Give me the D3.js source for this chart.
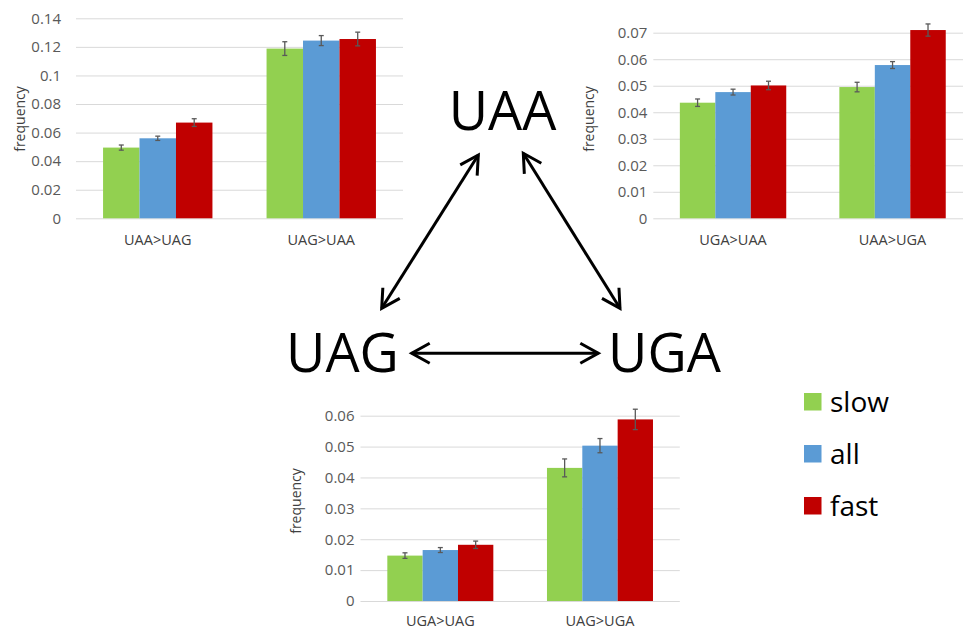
<!DOCTYPE html>
<html>
<head>
<meta charset="utf-8">
<script src="https://cdn.jsdelivr.net/npm/d3@7"></script>
<style>
  html, body { margin: 0; padding: 0; background: #fff; }
  svg { display: block; }
</style>
</head>
<body>
<svg id="chart" width="966" height="630"></svg>
<script>
// Series shared by all three panels
const seriesNames = ["slow", "all", "fast"];
const seriesColors = ["#92D050", "#5B9BD5", "#C00000"];

// Panel: UAA <-> UAG
const catsUAG = ["UAA>UAG", "UAG>UAA"];
const slowUAG = [0.0495, 0.1188];
const allUAG  = [0.0560, 0.1244];
const fastUAG = [0.0670, 0.1255];
const slowErrUAG = [0.0018, 0.0048];
const allErrUAG  = [0.0015, 0.0035];
const fastErrUAG = [0.0027, 0.0048];
const ticksUAG = [0, 0.02, 0.04, 0.06, 0.08, 0.1, 0.12, 0.14];

// Panel: UAA <-> UGA
const catsUGA = ["UGA>UAA", "UAA>UGA"];
const slowUGA = [0.0436, 0.0495];
const allUGA  = [0.0476, 0.0578];
const fastUGA = [0.0501, 0.0710];
const slowErrUGA = [0.0014, 0.0018];
const allErrUGA  = [0.0011, 0.0013];
const fastErrUGA = [0.0016, 0.0023];
const ticksUGA = [0, 0.01, 0.02, 0.03, 0.04, 0.05, 0.06, 0.07];

// Panel: UAG <-> UGA
const catsAG = ["UGA>UAG", "UAG>UGA"];
const slowAG = [0.0147, 0.0431];
const allAG  = [0.0165, 0.0503];
const fastAG = [0.0182, 0.0588];
const slowErrAG = [0.0009, 0.0029];
const allErrAG  = [0.0008, 0.0023];
const fastErrAG = [0.0012, 0.0033];
const ticksAG = [0, 0.01, 0.02, 0.03, 0.04, 0.05, 0.06];

// Codon nodes of the triangle
const codons = ["UAA", "UAG", "UGA"];

const svg = d3.select("#chart");
const font = "'Open Sans', 'Noto Sans', sans-serif";
const fmt = d => d === 0 ? "0" : String(+d.toFixed(3));

function drawPanel(cfg) {
  const g = svg.append("g");
  const y = d3.scaleLinear().domain([0, cfg.ticks[cfg.ticks.length - 1]])
    .range([cfg.bottom, cfg.top]);
  const x = d3.scaleBand().domain(cfg.cats).range([cfg.left, cfg.right])
    .paddingInner(cfg.pad).paddingOuter(cfg.pad / 2);
  const xs = d3.scaleBand().domain(seriesNames).range([0, x.bandwidth()]);

  // gridlines + tick labels
  const axis = g.append("g")
    .attr("transform", `translate(${cfg.left},0)`)
    .call(d3.axisLeft(y).tickValues(cfg.ticks).tickFormat(fmt)
      .tickSize(-(cfg.gridRight - cfg.left)).tickPadding(cfg.labelPad));
  axis.select(".domain").remove();
  axis.selectAll(".tick line").attr("stroke", "#D9D9D9").attr("stroke-width", 1);
  axis.selectAll(".tick text").attr("fill", "#595959")
    .style("font-family", font).style("font-size", "15px");

  // bars
  const rows = [];
  cfg.cats.forEach((c, i) => {
    seriesNames.forEach((s, j) => {
      rows.push({ cat: c, s, color: seriesColors[j], v: cfg.values[j][i], e: cfg.errors[j][i] });
    });
  });
  const grp = g.append("g");
  grp.selectAll("rect").data(rows).join("rect")
    .attr("x", d => x(d.cat) + xs(d.s))
    .attr("width", xs.bandwidth())
    .attr("y", d => y(d.v))
    .attr("height", d => y(0) - y(d.v))
    .attr("fill", d => d.color);

  // error bars
  const eb = grp.selectAll("g.err").data(rows).join("g").attr("class", "err")
    .attr("stroke", "#595959").attr("stroke-width", 1.3).attr("fill", "none");
  const cx = d => x(d.cat) + xs(d.s) + xs.bandwidth() / 2;
  eb.append("line")
    .attr("x1", cx).attr("x2", cx)
    .attr("y1", d => y(d.v + d.e)).attr("y2", d => y(d.v - d.e));
  eb.append("line")
    .attr("x1", d => cx(d) - 2.5).attr("x2", d => cx(d) + 2.5)
    .attr("y1", d => y(d.v + d.e)).attr("y2", d => y(d.v + d.e));
  eb.append("line")
    .attr("x1", d => cx(d) - 2.5).attr("x2", d => cx(d) + 2.5)
    .attr("y1", d => y(d.v - d.e)).attr("y2", d => y(d.v - d.e));

  // category labels
  g.selectAll("text.cat").data(cfg.cats).join("text").attr("class", "cat")
    .attr("x", d => x(d) + x.bandwidth() / 2)
    .attr("y", cfg.catY)
    .attr("text-anchor", "middle")
    .attr("fill", "#404040")
    .style("font-family", font).style("font-size", "14.5px")
    .text(d => d);

  // y-axis title
  g.append("text")
    .attr("transform", `translate(${cfg.titleX},${cfg.titleY}) rotate(-90)`)
    .attr("text-anchor", "middle")
    .attr("dominant-baseline", "central")
    .attr("fill", "#404040")
    .style("font-family", font).style("font-size", "14px")
    .text("frequency");
}

drawPanel({
  cats: catsUAG, ticks: ticksUAG,
  values: [slowUAG, allUAG, fastUAG], errors: [slowErrUAG, allErrUAG, fastErrUAG],
  left: 76, right: 403, gridRight: 403, top: 18.3, bottom: 218.3, pad: 0.331,
  labelPad: 15, catY: 245, titleX: 19, titleY: 119
});
drawPanel({
  cats: catsUGA, ticks: ticksUGA,
  values: [slowUGA, allUGA, fastUGA], errors: [slowErrUGA, allErrUGA, fastErrUGA],
  left: 653.3, right: 972.3, gridRight: 963, top: 32.7, bottom: 218.3, pad: 0.333,
  labelPad: 6, catY: 245, titleX: 588.5, titleY: 119
});
drawPanel({
  cats: catsAG, ticks: ticksAG,
  values: [slowAG, allAG, fastAG], errors: [slowErrAG, allErrAG, fastErrAG],
  left: 360.5, right: 679.8, gridRight: 679.8, top: 415.7, bottom: 601, pad: 0.336,
  labelPad: 6, catY: 626, titleX: 295.5, titleY: 501
});

// codon labels
const codonPos = { UAA: [502.5, 129.5], UAG: [342.5, 371.5], UGA: [664.5, 371.5] };
svg.selectAll("text.codon").data(codons).join("text").attr("class", "codon")
  .attr("x", d => codonPos[d][0]).attr("y", d => codonPos[d][1])
  .attr("text-anchor", "middle").attr("fill", "#000")
  .style("font-family", font).style("font-size", "54px")
  .text(d => d);

// double-headed arrows between codons
const defs = svg.append("defs");
defs.append("marker").attr("id", "chev")
  .attr("markerUnits", "userSpaceOnUse")
  .attr("viewBox", "-22 -12 26 24")
  .attr("markerWidth", 26).attr("markerHeight", 24)
  .attr("refX", 0).attr("refY", 0)
  .attr("orient", "auto-start-reverse")
  .append("path").attr("d", "M-18,-10 L0,0 L-18,10")
  .attr("fill", "none").attr("stroke", "#000").attr("stroke-width", 3)
  .attr("stroke-linejoin", "miter");

const arrows = [
  [[478.3, 155], [381.7, 308.3]],
  [[523.3, 153.3], [620, 308.3]],
  [[411.7, 353.3], [598.3, 353.3]]
];
svg.selectAll("line.arrow").data(arrows).join("line").attr("class", "arrow")
  .attr("x1", d => d[0][0]).attr("y1", d => d[0][1])
  .attr("x2", d => d[1][0]).attr("y2", d => d[1][1])
  .attr("stroke", "#000").attr("stroke-width", 3)
  .attr("marker-start", "url(#chev)").attr("marker-end", "url(#chev)");

// legend
const lg = svg.append("g").attr("transform", "translate(804,393)");
const li = lg.selectAll("g").data(seriesNames).join("g")
  .attr("transform", (d, i) => `translate(0,${i * 52})`);
li.append("rect").attr("width", 17.5).attr("height", 17.5)
  .attr("fill", (d, i) => seriesColors[i]);
li.append("text").attr("x", 26).attr("y", 18.5)
  .attr("fill", "#000")
  .style("font-family", font).style("font-size", "28px")
  .text(d => d);
</script>
</body>
</html>
